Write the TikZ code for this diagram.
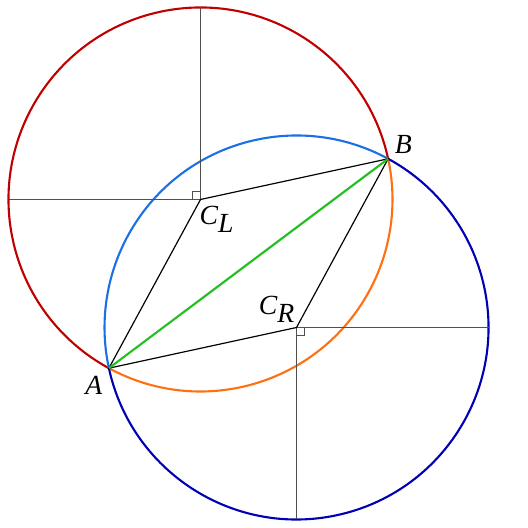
\documentclass[tikz,border=0pt]{standalone}
\usepackage{fontspec}
\setmainfont{Liberation Serif}
\usetikzlibrary{calc}
\tikzset{
	circ/.style={line width=0.8pt},
	helper/.style={draw=axisGray, line width=0.75pt},
	side/.style={draw=black, line width=0.45pt},
	rightmark/.style={draw=axisGray, line width=0.5pt},
	ptlabel/.style={font=\fontsize{10.5}{12}\selectfont\itshape}
}
\definecolor{leftColor}{HTML}{C00000}
\definecolor{leftMinor}{HTML}{FF7010}
\definecolor{rightColor}{HTML}{0000B4}
\definecolor{rightMinor}{HTML}{1C6FE4}
\definecolor{chordColor}{HTML}{22C022}
\definecolor{axisGray}{HTML}{505050}

\begin{document}
\begin{tikzpicture}[x=0.42667cm, y=0.42667cm]
	\useasboundingbox (-6.266,-10.266) rectangle (10.234,6.234);
	\coordinate (CL) at (0, 0);
	\coordinate (CR) at (3, -4);
	\coordinate (A) at (-2.863, -5.272);
	\coordinate (B) at (5.863, 1.272);
	\coordinate (CLtop) at (0, 6);
	\coordinate (CLleft) at (-6, 0);
	\coordinate (CRright) at (9, -4);
	\coordinate (CRbottom) at (3, -10);
	
	% circle round C_L
	\draw[circ, leftColor] (B) arc[start angle=12.24, end angle=241.5, radius=6];
	\draw[circ, leftMinor] (A) arc[start angle=241.5, end angle=372.24, radius=6];
	% circle round C_R
	\draw[circ, rightColor] (A) arc[start angle=192.24, end angle=421.5, radius=6];
	\draw[circ, rightMinor] (B) arc[start angle=61.5, end angle=192.24, radius=6];
	
	\path[helper] (CL) -- (CLtop);
	\path[helper] (CL) -- (CLleft);
	\path[helper] (CR) -- (CRright);
	\path[helper] (CR) -- (CRbottom);
	\path[rightmark] (CL) ++(-0.24,0) -- ++(0,0.24) -- ++(0.24,0);
	\path[rightmark] (CR) ++(0.24,0) -- ++(0,-0.24) -- ++(-0.24,0);
	
	\path[side] (A) -- (CL) -- (B) -- (CR) -- cycle;
	\draw[chordColor, line width=0.8pt] (A) -- (B);
	
	\node[ptlabel] (labA) at (-3.33, -5.80) {A};
	\node[ptlabel] (labB) at (6.34, 1.73) {B};
	\node[ptlabel] (labCL) at (0.52, -0.61) {C$_{\textit{L}}$};
	\node[ptlabel] (labCR) at (2.40, -3.42) {C$_{\textit{R}}$};
\end{tikzpicture}
\end{document}
